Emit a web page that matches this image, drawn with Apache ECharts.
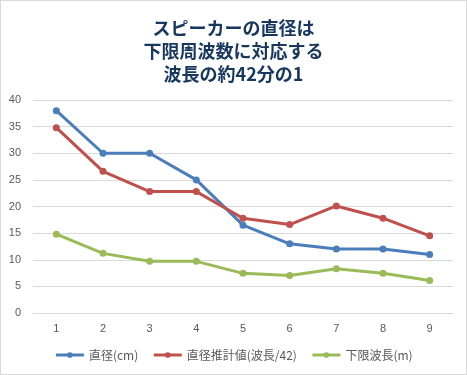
<!DOCTYPE html>
<html>
<head>
<meta charset="utf-8">
<script src="https://cdn.jsdelivr.net/npm/echarts@6/dist/echarts.min.js"></script>
<style>
    html, body { margin: 0; padding: 0; background: #fff; }
    #chart { width: 465px; height: 373px; border: 1px solid #d9d9d9; }
</style>
</head>
<body>
<div id="chart"></div>
<script>
// 系列データ
const categories = ['1', '2', '3', '4', '5', '6', '7', '8', '9'];
const diameter = [38, 30, 30, 25, 16.5, 13, 12, 12, 11];
const estimated = [34.8, 26.6, 22.8, 22.8, 17.8, 16.6, 20.1, 17.8, 14.5];
const wavelength = [14.8, 11.2, 9.7, 9.7, 7.45, 7.05, 8.3, 7.45, 6.1];
const seriesNames = ['直径(cm)', '直径推計値(波長/42)', '下限波長(m)'];
const colors = ['#4A7EBB', '#C0504D', '#9BBB59'];

let chart = echarts.init(document.getElementById('chart'));

function lineSeries(name, data, color){
    return {
        name: name,
        type: 'line',
        data: data,
        symbol: 'circle',
        symbolSize: 7,
        lineStyle: { width: 3, color: color },
        itemStyle: { color: color },
        emphasis: { disabled: true }
    }
}

chart.setOption({
    animation: false,
    title: {
        text: 'スピーカーの直径は\n下限周波数に対応する\n波長の約42分の1',
        left: 'center',
        top: 11,
        textStyle: {
            fontFamily: '"Noto Sans CJK JP", sans-serif',
            fontSize: 18,
            fontWeight: 'bold',
            lineHeight: 23,
            color: '#17375E'
        }
    },
    color: colors,
    grid: {
        left: 32,
        right: 13,
        top: 99,
        bottom: 61
    },
    legend: {
        bottom: 8,
        left: 'center',
        itemWidth: 28,
        itemHeight: 7,
        itemGap: 14,
        lineStyle: { width: 3 },
        textStyle: {
            fontFamily: '"Noto Sans CJK JP", sans-serif',
            fontSize: 12,
            color: '#595959'
        },
        data: seriesNames
    },
    xAxis: {
        type: 'category',
        data: categories,
        boundaryGap: true,
        axisLine: { lineStyle: { color: '#d9d9d9' } },
        axisTick: { show: false },
        axisLabel: { color: '#595959', fontSize: 11, margin: 10 }
    },
    yAxis: {
        type: 'value',
        min: 0,
        max: 40,
        interval: 5,
        axisLine: { show: false },
        axisTick: { show: false },
        axisLabel: { color: '#595959', fontSize: 11, margin: 12 },
        splitLine: { lineStyle: { color: '#d9d9d9' } }
    },
    series: [
        lineSeries(seriesNames[0], diameter, colors[0]),
        lineSeries(seriesNames[1], estimated, colors[1]),
        lineSeries(seriesNames[2], wavelength, colors[2])
    ]
});
</script>
</body>
</html>
